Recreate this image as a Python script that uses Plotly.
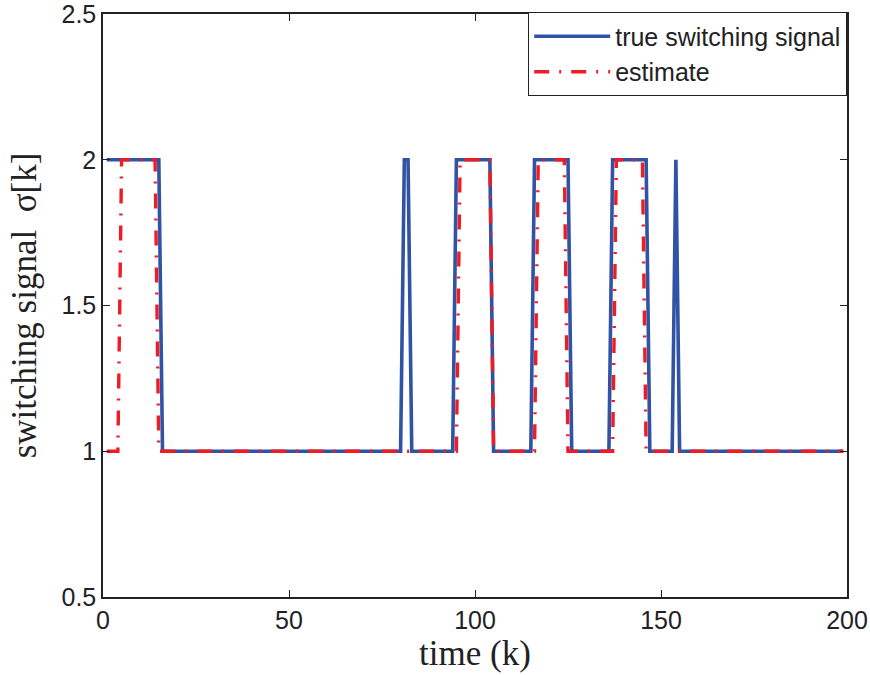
import plotly.graph_objects as go

# time axis
k_start, k_end = 1, 199

# true switching signal: value held from each switch instant onward
true_switch_k = [1, 16, 81, 83, 95, 105, 116, 126, 137, 147, 154, 155]
true_levels   = [2, 1, 2, 1, 2, 1, 2, 1, 2, 1, 2, 1]

# estimate: value held from each switch instant onward
est_switch_k = [1, 5, 15, 96, 105, 117, 125, 138, 146]
est_levels   = [1, 2, 1, 2, 1, 2, 1, 2, 1]

x_ticks = [0, 50, 100, 150, 200]
y_ticks = [0.5, 1, 1.5, 2, 2.5]


def expand(switch_k, levels):
    ks = list(range(k_start, k_end + 1))
    vals = []
    for k in ks:
        v = levels[0]
        for sk, lv in zip(switch_k, levels):
            if k >= sk:
                v = lv
        vals.append(v)
    return ks, vals


k_true, sig_true = expand(true_switch_k, true_levels)
k_est, sig_est = expand(est_switch_k, est_levels)

fig = go.Figure()
fig.add_trace(go.Scatter(
    x=k_true, y=sig_true, mode="lines", name="true switching signal",
    line=dict(color="#3053a5", width=3.6)))
fig.add_trace(go.Scatter(
    x=k_est, y=sig_est, mode="lines", name="estimate",
    line=dict(color="#ee1d25", width=3.4, dash="15px,10px,2px,10px")))

axis_common = dict(
    showgrid=False, zeroline=False, showline=True, linecolor="#222222",
    linewidth=1.5, mirror="ticks", ticks="inside", ticklen=7,
    tickcolor="#222222", tickwidth=1, automargin=False,
    ticklabeloverflow="allow",
    tickfont=dict(family="Liberation Sans, Arial", size=25, color="#222222"),
)

fig.update_layout(
    width=870, height=675,
    margin=dict(l=103, r=23, t=12, b=78),
    paper_bgcolor="white", plot_bgcolor="white",
    xaxis=dict(range=[0, 200], tickvals=x_ticks,
               title=dict(text="time (k)", standoff=2,
                          font=dict(family="Liberation Serif, Times New Roman", size=35, color="#222222")),
               **axis_common),
    yaxis=dict(range=[0.5, 2.5], tickvals=y_ticks,
               ticktext=[str(v) for v in y_ticks],
               title=dict(text="switching signal\u00a0 σ[k]", standoff=14,
                          font=dict(family="Liberation Serif, Times New Roman", size=35, color="#222222")),
               **axis_common),
    legend=dict(x=1.0, y=1.003, xanchor="right", yanchor="top",
                bgcolor="white", bordercolor="#222222", borderwidth=1.2,
                font=dict(family="Liberation Sans, Arial", size=25, color="#222222"),
                itemwidth=76, tracegroupgap=0),
    showlegend=True,
)

fig.write_html("out.html")
